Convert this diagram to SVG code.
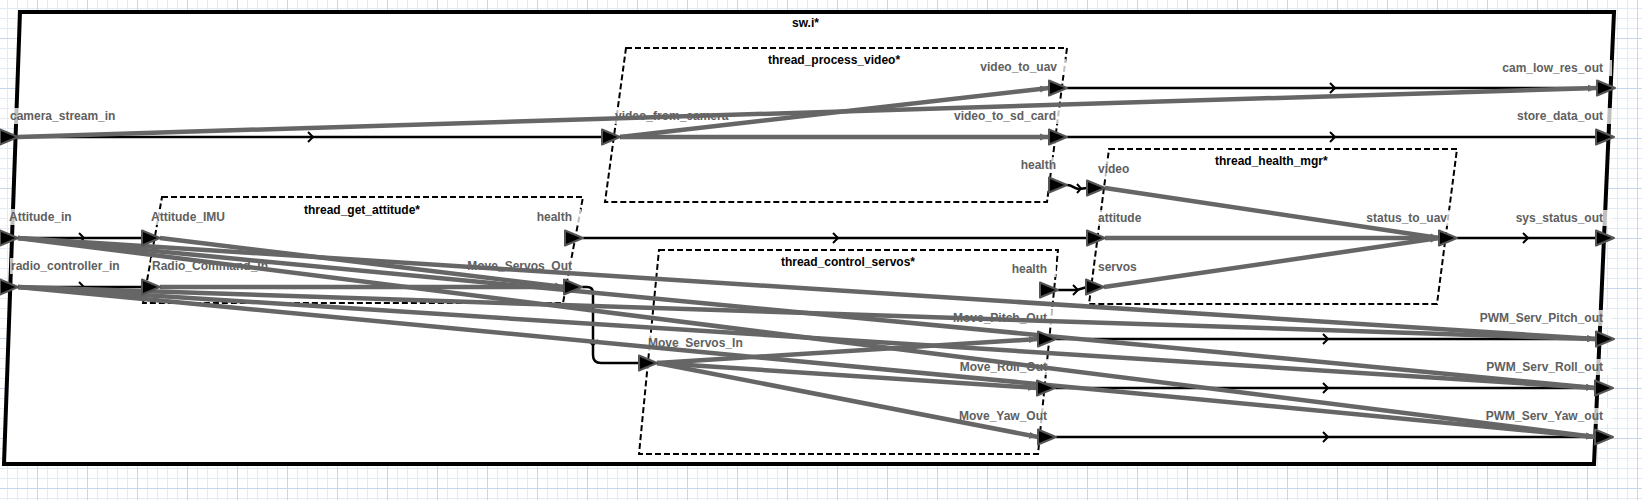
<svg xmlns="http://www.w3.org/2000/svg" width="1642" height="500" viewBox="0 0 1642 500">
<defs>
<pattern id="grid" patternUnits="userSpaceOnUse" x="37" y="38" width="50" height="50">
<rect width="50" height="50" fill="#ffffff"/>
<path d="M10.5,0V50M20.5,0V50M30.5,0V50M40.5,0V50M0,10.5H50M0,20.5H50M0,30.5H50M0,40.5H50" stroke="#e2eaf5" stroke-width="1"/>
<path d="M0.5,0V50M0,0.5H50" stroke="#c6d6eb" stroke-width="1"/>
</pattern>
<marker id="fh" markerUnits="userSpaceOnUse" markerWidth="10" markerHeight="8" refX="9" refY="4" orient="auto"><path d="M0,0.5 L9,4 L0,7.5 Z" fill="#666"/></marker>
<path id="tri" d="M-18,-7.5 L0,0 L-18,7.5 Z"/>
</defs>
<style>
.outer{fill:#fff;stroke:#000;stroke-width:4;stroke-linejoin:miter}
.thread{fill:none;stroke:#000;stroke-width:2;stroke-dasharray:6 3}
.title{font-family:"Liberation Sans",Arial,sans-serif;font-size:12px;font-weight:bold;fill:#000}
.lbl{font-family:"Liberation Sans",Arial,sans-serif;font-size:12px;font-weight:bold;fill:#606060}
.end{text-anchor:end}
.bg{fill:#fff;fill-opacity:0.75}
.conn{fill:none;stroke:#000;stroke-width:2.5}
.chev{fill:none;stroke:#000;stroke-width:2}
.flow{fill:none;stroke:#666;stroke-width:4.5;marker-end:url(#fh)}
.port{fill:#000;stroke:#555;stroke-width:2;stroke-linejoin:round}
</style>
<rect width="1642" height="500" fill="url(#grid)"/>

<g id="sw_i">
<polygon class="outer" points="20,12 1614,12 1594,464 4,464"/>
<text class="title" x="792" y="27">sw.i*</text>
<rect class="bg" x="9" y="108" width="109" height="16"/><text class="lbl" x="10" y="120">camera_stream_in</text>
<rect class="bg" x="8" y="209" width="66" height="16"/><text class="lbl" x="9" y="221">Attitude_in</text>
<rect class="bg" x="10" y="258" width="112" height="16"/><text class="lbl" x="11" y="270">radio_controller_in</text>
<rect class="bg" x="1500" y="60" width="112" height="16"/><text class="lbl end" x="1603" y="72">cam_low_res_out</text>
<rect class="bg" x="1515" y="108" width="97" height="16"/><text class="lbl end" x="1603" y="120">store_data_out</text>
<rect class="bg" x="1512" y="210" width="100" height="16"/><text class="lbl end" x="1603" y="222">sys_status_out</text>
<rect class="bg" x="1478" y="310" width="134" height="16"/><text class="lbl end" x="1603" y="322">PWM_Serv_Pitch_out</text>
<rect class="bg" x="1484" y="359" width="128" height="16"/><text class="lbl end" x="1603" y="371">PWM_Serv_Roll_out</text>
<rect class="bg" x="1483" y="408" width="129" height="16"/><text class="lbl end" x="1603" y="420">PWM_Serv_Yaw_out</text>
</g>

<g id="thread_process_video">
<polygon class="thread" points="626,48 1067,48 1047,202 605,202"/>
<text class="title" x="768" y="64">thread_process_video*</text>
<rect class="bg" x="614" y="108" width="116" height="16"/><text class="lbl" x="615" y="120">video_from_camera</text>
<rect class="bg" x="979" y="59" width="87" height="16"/><text class="lbl end" x="1057" y="71">video_to_uav</text>
<rect class="bg" x="953" y="108" width="112" height="16"/><text class="lbl end" x="1056" y="120">video_to_sd_card</text>
<rect class="bg" x="1019" y="157" width="46" height="16"/><text class="lbl end" x="1056" y="169">health</text>
</g>

<g id="thread_get_attitude">
<polygon class="thread" points="162,197 583,197 563,303 143,303"/>
<text class="title" x="304" y="214">thread_get_attitude*</text>
<rect class="bg" x="150" y="209" width="77" height="16"/><text class="lbl" x="151" y="221">Attitude_IMU</text>
<rect class="bg" x="151" y="258" width="119" height="16"/><text class="lbl" x="152" y="270">Radio_Command_In</text>
<rect class="bg" x="535" y="209" width="46" height="16"/><text class="lbl end" x="572" y="221">health</text>
<rect class="bg" x="466" y="258" width="115" height="16"/><text class="lbl end" x="572" y="270">Move_Servos_Out</text>
</g>

<g id="thread_health_mgr">
<polygon class="thread" points="1109,149 1457,149 1437,304 1089,304"/>
<text class="title" x="1215" y="165">thread_health_mgr*</text>
<rect class="bg" x="1097" y="161" width="34" height="16"/><text class="lbl" x="1098" y="173">video</text>
<rect class="bg" x="1097" y="210" width="46" height="16"/><text class="lbl" x="1098" y="222">attitude</text>
<rect class="bg" x="1097" y="259" width="42" height="16"/><text class="lbl" x="1098" y="271">servos</text>
<rect class="bg" x="1365" y="210" width="91" height="16"/><text class="lbl end" x="1447" y="222">status_to_uav</text>
</g>

<g id="thread_control_servos">
<polygon class="thread" points="659,250 1058,250 1038,454 639,454"/>
<text class="title end" x="915" y="266">thread_control_servos*</text>
<rect class="bg" x="647" y="335" width="97" height="16"/><text class="lbl" x="648" y="347">Move_Servos_In</text>
<rect class="bg" x="1010" y="261" width="46" height="16"/><text class="lbl end" x="1047" y="273">health</text>
<rect class="bg" x="951" y="310" width="105" height="16"/><text class="lbl end" x="1047" y="322">Move_Pitch_Out</text>
<rect class="bg" x="958" y="359" width="98" height="16"/><text class="lbl end" x="1047" y="371">Move_Roll_Out</text>
<rect class="bg" x="956" y="408" width="100" height="16"/><text class="lbl end" x="1047" y="420">Move_Yaw_Out</text>
</g>

<g id="connectors">
<path class="conn" d="M18,137 H602"/><path class="chev" d="M308,132 L313,137 L308,142"/>
<path class="conn" d="M1067,88 H1597"/><path class="chev" d="M1330,83 L1335,88 L1330,93"/>
<path class="conn" d="M1067,137 H1596"/><path class="chev" d="M1330,132 L1335,137 L1330,142"/>
<path class="conn" d="M18,238 H142"/><path class="chev" d="M79,233 L84,238 L79,243"/>
<path class="conn" d="M18,287 H142"/><path class="chev" d="M79,282 L84,287 L79,292"/>
<path class="conn" d="M583,238 H1087"/><path class="chev" d="M833,233 L838,238 L833,243"/>
<path class="conn" d="M1067,185 C1073,185 1074,189 1079,189 L1087,188"/><path class="chev" d="M1077,184 L1081,188.5 L1077,193"/>
<path class="conn" d="M1058,290 H1077 L1087,287"/><path class="chev" d="M1073,285 L1078,290 L1073,295"/>
<path class="conn" d="M582,287 H587 Q593,287 593,293 V355 Q593,363 601,363 H639"/><path class="chev" d="M588,340 L593,345 L598,340"/>
<path class="conn" d="M1457,238 H1596"/><path class="chev" d="M1523,233 L1528,238 L1523,243"/>
<path class="conn" d="M1056,339 H1596"/><path class="chev" d="M1323,334 L1328,339 L1323,344"/>
<path class="conn" d="M1055,388 H1595"/><path class="chev" d="M1323,383 L1328,388 L1323,393"/>
<path class="conn" d="M1056,437 H1595"/><path class="chev" d="M1323,432 L1328,437 L1323,442"/>

<path class="flow" d="M18,137 L1597,88"/>
<path class="flow" d="M620,137 L1049,88"/>
<path class="flow" d="M620,137 L1049,137"/>
<path class="flow" d="M1105,188 L1439,238"/>
<path class="flow" d="M1105,238 L1439,238"/>
<path class="flow" d="M1104,287 L1439,238"/>
<path class="flow" d="M657,363 L1038,339"/>
<path class="flow" d="M657,363 L1037,388"/>
<path class="flow" d="M657,363 L1038,437"/>
<path class="flow" d="M160,238 L564,287"/>
<path class="flow" d="M160,287 L564,287"/>
<path class="flow" d="M18,238 L1596,339"/>
<path class="flow" d="M18,238 L1595,388"/>
<path class="flow" d="M18,238 L1595,437"/>
<path class="flow" d="M18,287 L1596,339"/>
<path class="flow" d="M18,287 L1595,388"/>
<path class="flow" d="M18,287 L1595,437"/>
</g>

<g id="ports">
<g id="sw_i-ports">
<use href="#tri" class="port" x="18" y="137"/>
<use href="#tri" class="port" x="18" y="238"/>
<use href="#tri" class="port" x="18" y="287"/>
<use href="#tri" class="port" x="1615" y="88"/>
<use href="#tri" class="port" x="1614" y="137"/>
<use href="#tri" class="port" x="1614" y="238"/>
<use href="#tri" class="port" x="1614" y="339"/>
<use href="#tri" class="port" x="1613" y="388"/>
<use href="#tri" class="port" x="1613" y="437"/>
</g>
<g id="thread_process_video-ports">
<use href="#tri" class="port" x="620" y="137"/>
<use href="#tri" class="port" x="1067" y="88"/>
<use href="#tri" class="port" x="1067" y="137"/>
<use href="#tri" class="port" x="1067" y="185"/>
</g>
<g id="thread_get_attitude-ports">
<use href="#tri" class="port" x="160" y="238"/>
<use href="#tri" class="port" x="160" y="287"/>
<use href="#tri" class="port" x="583" y="238"/>
<use href="#tri" class="port" x="582" y="287"/>
</g>
<g id="thread_health_mgr-ports">
<use href="#tri" class="port" x="1105" y="188"/>
<use href="#tri" class="port" x="1105" y="238"/>
<use href="#tri" class="port" x="1104" y="287"/>
<use href="#tri" class="port" x="1457" y="238"/>
</g>
<g id="thread_control_servos-ports">
<use href="#tri" class="port" x="657" y="363"/>
<use href="#tri" class="port" x="1058" y="290"/>
<use href="#tri" class="port" x="1056" y="339"/>
<use href="#tri" class="port" x="1055" y="388"/>
<use href="#tri" class="port" x="1056" y="437"/>
</g>
</g>
</svg>
